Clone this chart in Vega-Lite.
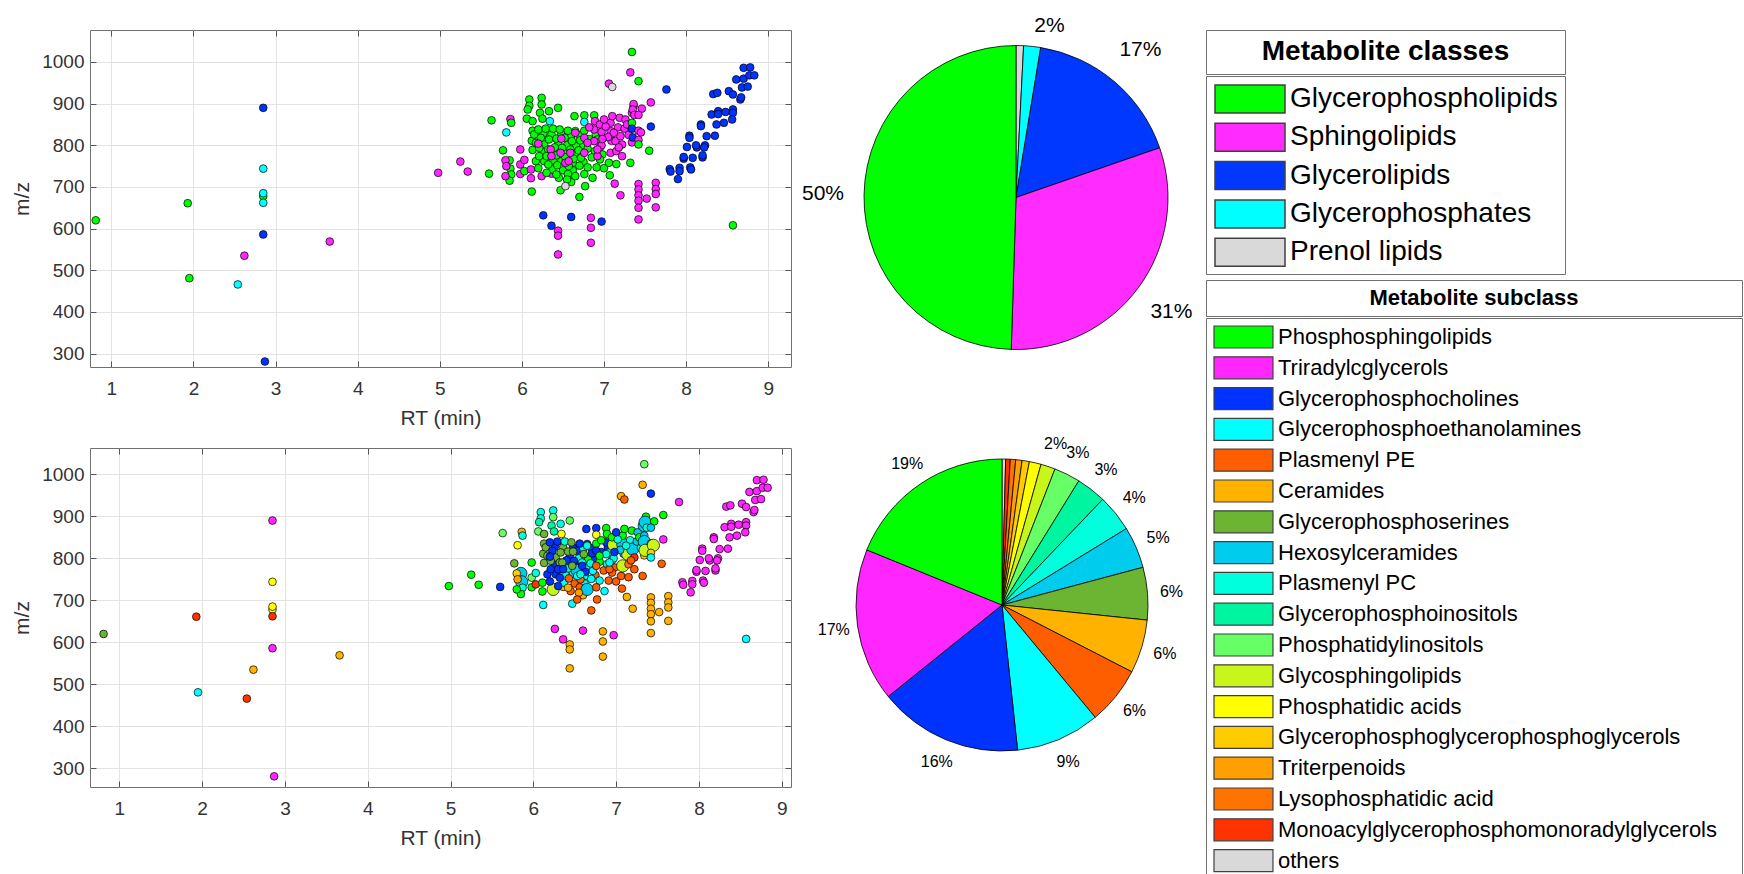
{
"$schema":"https://vega.github.io/schema/vega-lite/v6.json",
"background":"white",
"autosize":{"type":"pad"},
"padding":{"left":11,"top":15,"right":0,"bottom":0},
"config":{
 "font":"Liberation Sans",
 "view":{"stroke":"#707070","strokeWidth":1},
 "axis":{"labelFont":"Liberation Sans","titleFont":"Liberation Sans","labelFontSize":19,"titleFontSize":21,"titleFontWeight":"normal","labelColor":"#333333","titleColor":"#333333","tickColor":"#555555","tickSize":-6,"domain":false,"gridColor":"#e3e3e3"}
},
"datasets":{
 "pts":[
{"rt":0.81,"mz":620,"cls":"GP","sub":"PS"},
{"rt":1.93,"mz":661,"cls":"GP","sub":"MON"},
{"rt":1.95,"mz":481,"cls":"GP","sub":"PE"},
{"rt":2.54,"mz":466,"cls":"GPh","sub":"MON"},
{"rt":2.62,"mz":535,"cls":"SP","sub":"CER"},
{"rt":2.85,"mz":890,"cls":"GL","sub":"TAG"},
{"rt":2.85,"mz":678,"cls":"GP","sub":"PA"},
{"rt":2.85,"mz":744,"cls":"GPh","sub":"PA"},
{"rt":2.85,"mz":685,"cls":"GPh","sub":"PA"},
{"rt":2.85,"mz":662,"cls":"GPh","sub":"MON"},
{"rt":2.85,"mz":586,"cls":"GL","sub":"TAG"},
{"rt":2.87,"mz":281,"cls":"GL","sub":"TAG"},
{"rt":3.66,"mz":569,"cls":"SP","sub":"CER"},
{"rt":4.98,"mz":734,"cls":"SP","sub":"PSL"},
{"rt":5.25,"mz":761,"cls":"SP","sub":"PSL"},
{"rt":5.34,"mz":737,"cls":"SP","sub":"PSL"},
{"rt":5.6,"mz":732,"cls":"GP","sub":"PC"},
{"rt":5.63,"mz":860,"cls":"GP","sub":"PI"},
{"rt":5.86,"mz":863,"cls":"SP","sub":"CER"},
{"rt":5.87,"mz":854,"cls":"GP","sub":"PPC"},
{"rt":5.81,"mz":831,"cls":"GPh","sub":"PA"},
{"rt":5.77,"mz":788,"cls":"GP","sub":"PS"},
{"rt":5.98,"mz":790,"cls":"SP","sub":"PSL"},
{"rt":5.85,"mz":764,"cls":"GP","sub":"HEX","big":1},
{"rt":5.86,"mz":744,"cls":"GP","sub":"HEX","big":1},
{"rt":5.87,"mz":730,"cls":"GP","sub":"PPC"},
{"rt":5.85,"mz":715,"cls":"GP","sub":"PSL"},
{"rt":5.8,"mz":764,"cls":"SP","sub":"PGG"},
{"rt":5.81,"mz":750,"cls":"SP","sub":"TRI"},
{"rt":5.8,"mz":726,"cls":"SP","sub":"PSL"},
{"rt":5.98,"mz":754,"cls":"SP","sub":"PI"},
{"rt":5.98,"mz":731,"cls":"SP","sub":"PSL"},
{"rt":6.03,"mz":765,"cls":"SP","sub":"PPC"},
{"rt":6.03,"mz":738,"cls":"GP","sub":"MON"},
{"rt":6.11,"mz":742,"cls":"SP","sub":"PSL"},
{"rt":6.11,"mz":721,"cls":"SP","sub":"PSL"},
{"rt":6.24,"mz":726,"cls":"SP","sub":"GSL","big":1},
{"rt":6.36,"mz":732,"cls":"SP","sub":"CER"},
{"rt":6.12,"mz":689,"cls":"GP","sub":"PE"},
{"rt":6.09,"mz":910,"cls":"GP","sub":"PPC"},
{"rt":6.09,"mz":895,"cls":"GP","sub":"PPC"},
{"rt":6.07,"mz":886,"cls":"GP","sub":"PGI"},
{"rt":6.06,"mz":864,"cls":"GP","sub":"PI"},
{"rt":6.13,"mz":858,"cls":"GP","sub":"PS"},
{"rt":6.13,"mz":835,"cls":"GP","sub":"PS"},
{"rt":6.12,"mz":811,"cls":"GP","sub":"PS"},
{"rt":6.13,"mz":789,"cls":"GP","sub":"PS"},
{"rt":6.24,"mz":914,"cls":"GP","sub":"PPC"},
{"rt":6.24,"mz":898,"cls":"GP","sub":"PI"},
{"rt":6.22,"mz":878,"cls":"GP","sub":"PGI"},
{"rt":6.25,"mz":864,"cls":"GP","sub":"PGI"},
{"rt":6.33,"mz":882,"cls":"GP","sub":"PPC"},
{"rt":6.34,"mz":858,"cls":"GPh","sub":"PA"},
{"rt":6.44,"mz":890,"cls":"GP","sub":"PI"},
{"rt":6.64,"mz":870,"cls":"GP","sub":"PC"},
{"rt":6.76,"mz":872,"cls":"GP","sub":"PC"},
{"rt":6.76,"mz":856,"cls":"GPh","sub":"PA"},
{"rt":6.88,"mz":872,"cls":"GP","sub":"PSL"},
{"rt":6.89,"mz":858,"cls":"SP","sub":"PSL"},
{"rt":6.15,"mz":826,"cls":"GP","sub":"PS"},
{"rt":6.26,"mz":828,"cls":"GP","sub":"PC"},
{"rt":6.36,"mz":826,"cls":"GP","sub":"PS"},
{"rt":6.48,"mz":826,"cls":"GP","sub":"PC"},
{"rt":6.6,"mz":822,"cls":"GP","sub":"PPC"},
{"rt":6.7,"mz":824,"cls":"GP","sub":"PC"},
{"rt":6.17,"mz":806,"cls":"GP","sub":"PS"},
{"rt":6.27,"mz":802,"cls":"GP","sub":"PS"},
{"rt":6.44,"mz":804,"cls":"GP","sub":"PC"},
{"rt":6.55,"mz":800,"cls":"GP","sub":"PPC"},
{"rt":6.66,"mz":798,"cls":"GP","sub":"PSL"},
{"rt":6.75,"mz":800,"cls":"GP","sub":"PC"},
{"rt":6.26,"mz":784,"cls":"GP","sub":"PC"},
{"rt":6.37,"mz":784,"cls":"GP","sub":"PPC"},
{"rt":6.52,"mz":782,"cls":"GP","sub":"PC"},
{"rt":6.64,"mz":778,"cls":"GP","sub":"PE"},
{"rt":6.17,"mz":762,"cls":"GP","sub":"PC"},
{"rt":6.27,"mz":762,"cls":"GP","sub":"PC"},
{"rt":6.38,"mz":764,"cls":"GP","sub":"PPC"},
{"rt":6.48,"mz":762,"cls":"GP","sub":"PE"},
{"rt":6.62,"mz":758,"cls":"GP","sub":"PPC"},
{"rt":6.75,"mz":760,"cls":"GP","sub":"PPE"},
{"rt":6.2,"mz":745,"cls":"GP","sub":"PC"},
{"rt":6.37,"mz":742,"cls":"GP","sub":"PE"},
{"rt":6.5,"mz":740,"cls":"GP","sub":"PPE"},
{"rt":6.62,"mz":740,"cls":"GP","sub":"PE"},
{"rt":6.45,"mz":722,"cls":"GP","sub":"PPE"},
{"rt":6.6,"mz":712,"cls":"GP","sub":"CER"},
{"rt":6.95,"mz":795,"cls":"GP","sub":"PPC"},
{"rt":6.9,"mz":826,"cls":"GP","sub":"PC"},
{"rt":6.2,"mz":838,"cls":"GP","sub":"PC"},
{"rt":6.29,"mz":840,"cls":"GP","sub":"PC"},
{"rt":6.38,"mz":840,"cls":"GP","sub":"PPC"},
{"rt":6.46,"mz":838,"cls":"GP","sub":"PS"},
{"rt":6.56,"mz":835,"cls":"GP","sub":"PC"},
{"rt":6.65,"mz":834,"cls":"GP","sub":"PC"},
{"rt":6.76,"mz":835,"cls":"GP","sub":"PSL"},
{"rt":6.23,"mz":818,"cls":"GP","sub":"PC"},
{"rt":6.33,"mz":814,"cls":"GP","sub":"PS"},
{"rt":6.42,"mz":816,"cls":"GP","sub":"PS"},
{"rt":6.52,"mz":818,"cls":"GP","sub":"PC"},
{"rt":6.61,"mz":810,"cls":"GP","sub":"PS"},
{"rt":6.71,"mz":812,"cls":"GP","sub":"PC"},
{"rt":6.82,"mz":815,"cls":"GP","sub":"PC"},
{"rt":6.92,"mz":814,"cls":"GP","sub":"PPC"},
{"rt":6.21,"mz":794,"cls":"GP","sub":"PS"},
{"rt":6.32,"mz":790,"cls":"GP","sub":"PS"},
{"rt":6.4,"mz":795,"cls":"GP","sub":"PC"},
{"rt":6.49,"mz":794,"cls":"GP","sub":"PC"},
{"rt":6.59,"mz":790,"cls":"GP","sub":"PPC"},
{"rt":6.69,"mz":788,"cls":"GP","sub":"PPC"},
{"rt":6.8,"mz":792,"cls":"GP","sub":"PSL"},
{"rt":6.89,"mz":786,"cls":"GP","sub":"PPC"},
{"rt":6.98,"mz":778,"cls":"GP","sub":"PPE"},
{"rt":6.21,"mz":774,"cls":"GP","sub":"PC"},
{"rt":6.3,"mz":774,"cls":"GP","sub":"PC"},
{"rt":6.42,"mz":776,"cls":"GP","sub":"PPC"},
{"rt":6.53,"mz":771,"cls":"GP","sub":"HEX","big":1},
{"rt":6.63,"mz":768,"cls":"GP","sub":"PC"},
{"rt":6.72,"mz":770,"cls":"GP","sub":"PE"},
{"rt":6.85,"mz":771,"cls":"GP","sub":"PPE"},
{"rt":6.95,"mz":766,"cls":"GP","sub":"PPE"},
{"rt":6.32,"mz":754,"cls":"GP","sub":"PC"},
{"rt":6.43,"mz":752,"cls":"GP","sub":"PPE"},
{"rt":6.57,"mz":750,"cls":"GP","sub":"PPE"},
{"rt":6.7,"mz":751,"cls":"GP","sub":"PE"},
{"rt":6.8,"mz":747,"cls":"GP","sub":"PE"},
{"rt":6.91,"mz":747,"cls":"GP","sub":"PPE"},
{"rt":6.3,"mz":734,"cls":"GP","sub":"PC"},
{"rt":6.42,"mz":730,"cls":"GP","sub":"CER"},
{"rt":6.56,"mz":731,"cls":"GP","sub":"PPE"},
{"rt":6.65,"mz":726,"cls":"GP","sub":"HEX","big":1},
{"rt":6.76,"mz":731,"cls":"GP","sub":"PPE"},
{"rt":6.86,"mz":722,"cls":"GP","sub":"PE"},
{"rt":6.55,"mz":718,"cls":"GP","sub":"TRI"},
{"rt":6.47,"mz":692,"cls":"GP","sub":"PE"},
{"rt":6.7,"mz":676,"cls":"GP","sub":"PPE"},
{"rt":6.77,"mz":702,"cls":"GP","sub":"PPE"},
{"rt":6.53,"mz":702,"cls":"PR","sub":"PPE"},
{"rt":7.0,"mz":745,"cls":"GP","sub":"PPE"},
{"rt":7.06,"mz":758,"cls":"GP","sub":"PPE"},
{"rt":7.15,"mz":755,"cls":"GP","sub":"PPE"},
{"rt":7.07,"mz":728,"cls":"GP","sub":"PPE"},
{"rt":6.2,"mz":804,"cls":"SP","sub":"PC"},
{"rt":6.48,"mz":816,"cls":"SP","sub":"PS"},
{"rt":6.65,"mz":830,"cls":"SP","sub":"PPC"},
{"rt":6.76,"mz":818,"cls":"SP","sub":"PC"},
{"rt":6.88,"mz":838,"cls":"SP","sub":"PC"},
{"rt":6.97,"mz":832,"cls":"SP","sub":"GSL","big":1},
{"rt":7.08,"mz":834,"cls":"SP","sub":"HEX","big":1},
{"rt":7.08,"mz":854,"cls":"SP","sub":"PSL"},
{"rt":7.17,"mz":843,"cls":"SP","sub":"PPC"},
{"rt":7.19,"mz":866,"cls":"SP","sub":"PSL"},
{"rt":7.1,"mz":870,"cls":"SP","sub":"PSL"},
{"rt":7.26,"mz":862,"cls":"SP","sub":"HEX"},
{"rt":7.34,"mz":878,"cls":"SP","sub":"HEX","big":1},
{"rt":7.36,"mz":894,"cls":"SP","sub":"PSL"},
{"rt":6.88,"mz":810,"cls":"SP","sub":"PPC"},
{"rt":6.8,"mz":806,"cls":"SP","sub":"PSL"},
{"rt":6.76,"mz":782,"cls":"SP","sub":"PPE"},
{"rt":6.59,"mz":782,"cls":"SP","sub":"PC"},
{"rt":6.47,"mz":782,"cls":"SP","sub":"PS"},
{"rt":6.35,"mz":790,"cls":"SP","sub":"PS"},
{"rt":6.36,"mz":774,"cls":"SP","sub":"PC"},
{"rt":6.53,"mz":758,"cls":"SP","sub":"PE"},
{"rt":6.57,"mz":762,"cls":"SP","sub":"PPC"},
{"rt":6.92,"mz":774,"cls":"SP","sub":"PPE"},
{"rt":6.97,"mz":800,"cls":"SP","sub":"PPC"},
{"rt":7.09,"mz":811,"cls":"SP","sub":"HEX"},
{"rt":7.14,"mz":810,"cls":"SP","sub":"GSL","big":1},
{"rt":7.2,"mz":822,"cls":"SP","sub":"HEX","big":1},
{"rt":7.22,"mz":802,"cls":"SP","sub":"MON"},
{"rt":7.08,"mz":782,"cls":"SP","sub":"GSL","big":1},
{"rt":7.15,"mz":786,"cls":"SP","sub":"LPA"},
{"rt":7.34,"mz":807,"cls":"SP","sub":"PGG"},
{"rt":7.22,"mz":774,"cls":"SP","sub":"PPE"},
{"rt":7.13,"mz":708,"cls":"SP","sub":"CER"},
{"rt":7.2,"mz":680,"cls":"SP","sub":"CER"},
{"rt":6.95,"mz":850,"cls":"SP","sub":"PSL"},
{"rt":7.02,"mz":845,"cls":"SP","sub":"PPC"},
{"rt":7.05,"mz":820,"cls":"SP","sub":"HEX"},
{"rt":7.12,"mz":830,"cls":"SP","sub":"PPC"},
{"rt":7.25,"mz":840,"cls":"SP","sub":"HEX"},
{"rt":7.3,"mz":825,"cls":"SP","sub":"PPC"},
{"rt":6.98,"mz":815,"cls":"SP","sub":"PC"},
{"rt":7.18,"mz":795,"cls":"SP","sub":"PPE"},
{"rt":7.28,"mz":850,"cls":"SP","sub":"PSL"},
{"rt":7.0,"mz":862,"cls":"SP","sub":"PC"},
{"rt":6.82,"mz":843,"cls":"SP","sub":"PSL"},
{"rt":6.92,"mz":790,"cls":"SP","sub":"PE"},
{"rt":7.34,"mz":1024,"cls":"GP","sub":"PI"},
{"rt":7.32,"mz":975,"cls":"SP","sub":"CER"},
{"rt":7.06,"mz":948,"cls":"SP","sub":"CER"},
{"rt":7.1,"mz":940,"cls":"PR","sub":"PPE"},
{"rt":7.42,"mz":954,"cls":"GP","sub":"PC"},
{"rt":7.76,"mz":934,"cls":"GL","sub":"TAG"},
{"rt":7.57,"mz":903,"cls":"SP","sub":"PSL"},
{"rt":7.36,"mz":899,"cls":"SP","sub":"PSL"},
{"rt":7.35,"mz":886,"cls":"SP","sub":"HEX","big":1},
{"rt":7.46,"mz":888,"cls":"SP","sub":"PSL"},
{"rt":7.37,"mz":873,"cls":"SP","sub":"PPC"},
{"rt":7.42,"mz":873,"cls":"SP","sub":"HEX"},
{"rt":7.34,"mz":854,"cls":"GP","sub":"HEX"},
{"rt":7.34,"mz":840,"cls":"GL","sub":"HEX","big":1},
{"rt":7.35,"mz":819,"cls":"GL","sub":"GSL","big":1},
{"rt":7.42,"mz":835,"cls":"SP","sub":"HEX"},
{"rt":7.45,"mz":831,"cls":"SP","sub":"GSL","big":1},
{"rt":7.42,"mz":813,"cls":"SP","sub":"PGG"},
{"rt":7.42,"mz":802,"cls":"GP","sub":"PE"},
{"rt":7.57,"mz":845,"cls":"GL","sub":"TAG"},
{"rt":7.55,"mz":787,"cls":"GP","sub":"PPE"},
{"rt":7.32,"mz":758,"cls":"GP","sub":"PPE"},
{"rt":7.42,"mz":707,"cls":"SP","sub":"CER"},
{"rt":7.42,"mz":694,"cls":"SP","sub":"CER"},
{"rt":7.42,"mz":680,"cls":"SP","sub":"CER"},
{"rt":7.42,"mz":667,"cls":"SP","sub":"CER"},
{"rt":7.42,"mz":650,"cls":"SP","sub":"CER"},
{"rt":7.42,"mz":622,"cls":"SP","sub":"CER"},
{"rt":7.52,"mz":672,"cls":"SP","sub":"CER"},
{"rt":7.63,"mz":710,"cls":"SP","sub":"CER"},
{"rt":7.63,"mz":695,"cls":"SP","sub":"CER"},
{"rt":7.63,"mz":683,"cls":"SP","sub":"CER"},
{"rt":7.63,"mz":651,"cls":"SP","sub":"CER"},
{"rt":6.26,"mz":632,"cls":"GL","sub":"TAG"},
{"rt":6.36,"mz":607,"cls":"GL","sub":"TAG"},
{"rt":6.6,"mz":628,"cls":"GL","sub":"TAG"},
{"rt":6.97,"mz":617,"cls":"GL","sub":"TAG"},
{"rt":6.44,"mz":595,"cls":"SP","sub":"CER"},
{"rt":6.44,"mz":583,"cls":"SP","sub":"CER"},
{"rt":6.44,"mz":538,"cls":"SP","sub":"CER"},
{"rt":6.84,"mz":626,"cls":"SP","sub":"CER"},
{"rt":6.84,"mz":602,"cls":"SP","sub":"CER"},
{"rt":6.84,"mz":566,"cls":"SP","sub":"CER"},
{"rt":8.57,"mz":608,"cls":"GP","sub":"PE"},
{"rt":7.8,"mz":743,"cls":"GL","sub":"TAG"},
{"rt":7.81,"mz":737,"cls":"GL","sub":"TAG"},
{"rt":7.92,"mz":746,"cls":"GL","sub":"TAG"},
{"rt":7.92,"mz":738,"cls":"GL","sub":"TAG"},
{"rt":7.9,"mz":719,"cls":"GL","sub":"TAG"},
{"rt":8.05,"mz":747,"cls":"GL","sub":"TAG"},
{"rt":8.06,"mz":742,"cls":"GL","sub":"TAG"},
{"rt":7.97,"mz":768,"cls":"GL","sub":"TAG"},
{"rt":7.97,"mz":772,"cls":"GL","sub":"TAG"},
{"rt":8.08,"mz":770,"cls":"GL","sub":"TAG"},
{"rt":8.2,"mz":771,"cls":"GL","sub":"TAG"},
{"rt":8.2,"mz":776,"cls":"GL","sub":"TAG"},
{"rt":8.01,"mz":796,"cls":"GL","sub":"TAG"},
{"rt":8.13,"mz":795,"cls":"GL","sub":"TAG"},
{"rt":8.12,"mz":800,"cls":"GL","sub":"TAG"},
{"rt":8.23,"mz":800,"cls":"GL","sub":"TAG"},
{"rt":8.22,"mz":795,"cls":"GL","sub":"TAG"},
{"rt":8.04,"mz":823,"cls":"GL","sub":"TAG"},
{"rt":8.04,"mz":818,"cls":"GL","sub":"TAG"},
{"rt":8.25,"mz":822,"cls":"GL","sub":"TAG"},
{"rt":8.35,"mz":823,"cls":"GL","sub":"TAG"},
{"rt":8.18,"mz":850,"cls":"GL","sub":"TAG"},
{"rt":8.18,"mz":846,"cls":"GL","sub":"TAG"},
{"rt":8.37,"mz":850,"cls":"GL","sub":"TAG"},
{"rt":8.46,"mz":854,"cls":"GL","sub":"TAG"},
{"rt":8.31,"mz":874,"cls":"GL","sub":"TAG"},
{"rt":8.39,"mz":882,"cls":"GL","sub":"TAG"},
{"rt":8.39,"mz":875,"cls":"GL","sub":"TAG"},
{"rt":8.48,"mz":880,"cls":"GL","sub":"TAG"},
{"rt":8.57,"mz":886,"cls":"GL","sub":"TAG"},
{"rt":8.57,"mz":878,"cls":"GL","sub":"TAG"},
{"rt":8.56,"mz":862,"cls":"GL","sub":"TAG"},
{"rt":8.33,"mz":923,"cls":"GL","sub":"TAG"},
{"rt":8.38,"mz":926,"cls":"GL","sub":"TAG"},
{"rt":8.52,"mz":930,"cls":"GL","sub":"TAG"},
{"rt":8.57,"mz":922,"cls":"GL","sub":"TAG"},
{"rt":8.66,"mz":910,"cls":"GL","sub":"TAG"},
{"rt":8.67,"mz":915,"cls":"GL","sub":"TAG"},
{"rt":8.68,"mz":939,"cls":"GL","sub":"TAG"},
{"rt":8.75,"mz":941,"cls":"GL","sub":"TAG"},
{"rt":8.61,"mz":958,"cls":"GL","sub":"TAG"},
{"rt":8.7,"mz":960,"cls":"GL","sub":"TAG"},
{"rt":8.7,"mz":986,"cls":"GL","sub":"TAG"},
{"rt":8.78,"mz":987,"cls":"GL","sub":"TAG"},
{"rt":8.77,"mz":968,"cls":"GL","sub":"TAG"},
{"rt":8.83,"mz":968,"cls":"GL","sub":"TAG"}
 ],
 "clsPie":[
  {"cls":"Prenol lipids","pct":0.8,"lab":"","ord":0},
  {"cls":"Glycerophosphates","pct":1.8,"lab":"2%","ord":1},
  {"cls":"Glycerolipids","pct":17.1,"lab":"17%","ord":2},
  {"cls":"Sphingolipids","pct":30.8,"lab":"31%","ord":3},
  {"cls":"Glycerophospholipids","pct":49.5,"lab":"50%","ord":4}
 ],
 "subPie":[
  {"sub":"others","pct":0.4,"lab":"","ord":0},
  {"sub":"Monoacylglycerophosphomonoradylglycerols","pct":0.5,"lab":"","ord":1},
  {"sub":"Lysophosphatidic acid","pct":0.6,"lab":"","ord":2},
  {"sub":"Triterpenoids","pct":0.7,"lab":"","ord":3},
  {"sub":"Glycerophosphoglycerophosphoglycerols","pct":0.8,"lab":"","ord":4},
  {"sub":"Phosphatidic acids","pct":1.3,"lab":"","ord":5},
  {"sub":"Glycosphingolipids","pct":1.6,"lab":"2%","ord":6},
  {"sub":"Phosphatidylinositols","pct":2.9,"lab":"3%","ord":7},
  {"sub":"Glycerophosphoinositols","pct":3.3,"lab":"3%","ord":8},
  {"sub":"Plasmenyl PC","pct":4.1,"lab":"4%","ord":9},
  {"sub":"Hexosylceramides","pct":4.6,"lab":"5%","ord":10},
  {"sub":"Glycerophosphoserines","pct":5.8,"lab":"6%","ord":11},
  {"sub":"Ceramides","pct":5.9,"lab":"6%","ord":12},
  {"sub":"Plasmenyl PE","pct":6.4,"lab":"6%","ord":13},
  {"sub":"Glycerophosphoethanolamines","pct":9.3,"lab":"9%","ord":14},
  {"sub":"Glycerophosphocholines","pct":15.9,"lab":"16%","ord":15},
  {"sub":"Triradylcglycerols","pct":16.9,"lab":"17%","ord":16},
  {"sub":"Phosphosphingolipids","pct":18.8,"lab":"19%","ord":17}
 ]
},
"resolve":{"scale":{"color":"independent"},"legend":{"color":"independent"}},
"spacing":10,
"hconcat":[
 {"spacing":18,"resolve":{"scale":{"color":"independent"},"legend":{"color":"independent"}},"vconcat":[
  {"width":701,"height":337,"data":{"name":"pts"},
   "layer":[
    {"mark":{"type":"point","filled":true,"opacity":1,"size":60,"stroke":"#000000","strokeWidth":0.7},
     "encoding":{
      "x":{"field":"rt","type":"quantitative","scale":{"domain":[0.74,9.277],"nice":false,"zero":false},"axis":{"title":"RT (min)","values":[1,2,3,4,5,6,7,8,9],"format":"d","labelPadding":18,"titlePadding":9,"grid":true}},
      "y":{"field":"mz","type":"quantitative","scale":{"domain":[267.8,1076.8],"nice":false,"zero":false},"axis":{"title":"m/z","values":[300,400,500,600,700,800,900,1000],"format":"d","labelPadding":12,"titlePadding":9,"grid":true}},
      "color":{"field":"cls","type":"nominal","scale":{"domain":["GP","SP","GL","GPh","PR"],"range":["#00ff00","#ff26ff","#0033ff","#00ffff","#d9d9d9"]},"legend":null}
     }},
    {"mark":{"type":"point","opacity":0},
     "encoding":{
      "x":{"field":"rt","type":"quantitative","scale":{"domain":[0.74,9.277],"nice":false,"zero":false},"axis":{"orient":"top","labels":false,"title":null,"grid":false,"values":[1,2,3,4,5,6,7,8,9]}},
      "y":{"field":"mz","type":"quantitative","scale":{"domain":[267.8,1076.8],"nice":false,"zero":false},"axis":{"orient":"right","labels":false,"title":null,"grid":false,"values":[300,400,500,600,700,800,900,1000]}}
     }}
   ],
   "resolve":{"axis":{"x":"independent","y":"independent"}}
  },
  {"width":701,"height":339,"data":{"name":"pts"},
   "layer":[
    {"mark":{"type":"point","filled":true,"opacity":1,"stroke":"#000000","strokeWidth":0.7},
     "encoding":{
      "x":{"field":"rt","type":"quantitative","scale":{"domain":[0.646,9.112],"nice":false,"zero":false},"axis":{"title":"RT (min)","values":[1,2,3,4,5,6,7,8,9],"format":"d","labelPadding":18,"titlePadding":9,"grid":true}},
      "y":{"field":"mz","type":"quantitative","scale":{"domain":[255.6,1062.6],"nice":false,"zero":false},"axis":{"title":"m/z","values":[300,400,500,600,700,800,900,1000],"format":"d","labelPadding":12,"titlePadding":9,"grid":true}},
      "size":{"condition":{"test":"datum.big == 1","value":150},"value":60},
      "color":{"field":"sub","type":"nominal","scale":{"domain":["PSL","TAG","PC","PE","PPE","CER","PS","HEX","PPC","PGI","PI","GSL","PA","PGG","TRI","LPA","MON","OTH"],"range":["#00ff00","#ff26ff","#0033ff","#00ffff","#ff5e00","#ffb300","#6bb533","#00ccee","#00ffdd","#00f5a0","#66ff66","#c8f51a","#ffff00","#ffcc00","#ffa000","#ff7300","#ff3300","#d9d9d9"]},"legend":null}
     }},
    {"mark":{"type":"point","opacity":0},
     "encoding":{
      "x":{"field":"rt","type":"quantitative","scale":{"domain":[0.646,9.112],"nice":false,"zero":false},"axis":{"orient":"top","labels":false,"title":null,"grid":false,"values":[1,2,3,4,5,6,7,8,9]}},
      "y":{"field":"mz","type":"quantitative","scale":{"domain":[255.6,1062.6],"nice":false,"zero":false},"axis":{"orient":"right","labels":false,"title":null,"grid":false,"values":[300,400,500,600,700,800,900,1000]}}
     }}
   ],
   "resolve":{"axis":{"x":"independent","y":"independent"}}
  }
 ]},
 {"spacing":70,"resolve":{"scale":{"color":"independent"},"legend":{"color":"independent"}},"vconcat":[
  {"width":358,"height":335,"view":{"stroke":null},"data":{"name":"clsPie"},
   "encoding":{"theta":{"field":"pct","type":"quantitative","stack":true},"order":{"field":"ord","type":"quantitative"},"detail":{"field":"cls","type":"nominal"}},
   "layer":[
    {"mark":{"type":"arc","outerRadius":152,"stroke":"#000000","strokeWidth":0.8},
     "encoding":{"color":{"field":"cls","type":"nominal","scale":{"domain":["Glycerophospholipids","Sphingolipids","Glycerolipids","Glycerophosphates","Prenol lipids"],"range":["#00ff00","#ff2bff","#0038ff","#00ffff","#d9d9d9"]},"legend":null}}},
    {"mark":{"type":"text","fontSize":21,"color":"#000000","radius":{"expr":"datum.pct >= 5 ? 193 : (datum.pct >= 1 ? 172 : 0)"},"align":{"expr":"datum.pct >= 5 ? 'center' : 'left'"}},
     "encoding":{"text":{"field":"lab","type":"nominal"}}}
   ]
  },
  {"width":330,"height":290,"view":{"stroke":null},"data":{"name":"subPie"},
   "encoding":{"theta":{"field":"pct","type":"quantitative","stack":true},"order":{"field":"ord","type":"quantitative"},"detail":{"field":"sub","type":"nominal"}},
   "layer":[
    {"mark":{"type":"arc","outerRadius":146,"stroke":"#000000","strokeWidth":0.8},
     "encoding":{"color":{"field":"sub","type":"nominal","scale":{"domain":["Phosphosphingolipids","Triradylcglycerols","Glycerophosphocholines","Glycerophosphoethanolamines","Plasmenyl PE","Ceramides","Glycerophosphoserines","Hexosylceramides","Plasmenyl PC","Glycerophosphoinositols","Phosphatidylinositols","Glycosphingolipids","Phosphatidic acids","Glycerophosphoglycerophosphoglycerols","Triterpenoids","Lysophosphatidic acid","Monoacylglycerophosphomonoradylglycerols","others"],"range":["#00ff00","#ff26ff","#0033ff","#00ffff","#ff5e00","#ffb300","#6bb533","#00ccee","#00ffdd","#00f5a0","#66ff66","#c8f51a","#ffff00","#ffcc00","#ffa000","#ff7300","#ff3300","#d9d9d9"]},"legend":null}}},
    {"mark":{"type":"text","fontSize":16,"color":"#000000","radius":{"expr":"datum.lab == '' ? 0 : 170"}},
     "encoding":{"text":{"field":"lab","type":"nominal"}}}
   ]
  }
 ]},
 {"spacing":4,"resolve":{"scale":{"color":"independent"},"legend":{"color":"independent"}},"vconcat":[
  {"spacing":0,"resolve":{"scale":{"color":"independent"},"legend":{"color":"independent"}},"vconcat":[
   {"width":359,"height":44,"view":{"stroke":"#707070","strokeWidth":1},"data":{"values":[{"t":"Metabolite classes"}]},
    "mark":{"type":"text","fontSize":28,"fontWeight":"bold","color":"#000000"},
    "encoding":{"text":{"field":"t","type":"nominal"}}},
   {"width":359,"height":198,"view":{"stroke":"#707070","strokeWidth":1},"data":{"name":"clsPie"},
    "mark":{"type":"text","text":""},
    "encoding":{"color":{"field":"cls","type":"nominal","scale":{"domain":["Glycerophospholipids","Sphingolipids","Glycerolipids","Glycerophosphates","Prenol lipids"],"range":["#00ff00","#ff2bff","#0038ff","#00ffff","#d9d9d9"]},
     "legend":{"orient":"top-left","offset":8,"title":null,"padding":0,"symbolType":"M-1,-1H4V1H-1Z","symbolSize":784,"symbolStrokeColor":"#404040","symbolStrokeWidth":1.5,"symbolOpacity":1,"labelFontSize":28,"labelFont":"Liberation Sans","labelColor":"#000000","labelOffset":46,"labelLimit":1000,"rowPadding":4.3}}}}
  ]},
  {"spacing":0,"resolve":{"scale":{"color":"independent"},"legend":{"color":"independent"}},"vconcat":[
   {"width":536,"height":36,"view":{"stroke":"#707070","strokeWidth":1},"data":{"values":[{"t":"Metabolite subclass"}]},
    "mark":{"type":"text","fontSize":22,"fontWeight":"bold","color":"#000000"},
    "encoding":{"text":{"field":"t","type":"nominal"}}},
   {"width":536,"height":558,"view":{"stroke":"#707070","strokeWidth":1},"data":{"name":"subPie"},
    "mark":{"type":"text","text":""},
    "encoding":{"color":{"field":"sub","type":"nominal","scale":{"domain":["Phosphosphingolipids","Triradylcglycerols","Glycerophosphocholines","Glycerophosphoethanolamines","Plasmenyl PE","Ceramides","Glycerophosphoserines","Hexosylceramides","Plasmenyl PC","Glycerophosphoinositols","Phosphatidylinositols","Glycosphingolipids","Phosphatidic acids","Glycerophosphoglycerophosphoglycerols","Triterpenoids","Lysophosphatidic acid","Monoacylglycerophosphomonoradylglycerols","others"],"range":["#00ff00","#ff26ff","#0033ff","#00ffff","#ff5e00","#ffb300","#6bb533","#00ccee","#00ffdd","#00f5a0","#66ff66","#c8f51a","#ffff00","#ffcc00","#ffa000","#ff7300","#ff3300","#d9d9d9"]},
     "legend":{"orient":"top-left","offset":7,"title":null,"padding":0,"symbolType":"M-1,-1H4.36V1H-1Z","symbolSize":484,"symbolStrokeColor":"#404040","symbolStrokeWidth":1.2,"symbolOpacity":1,"labelFontSize":22,"labelFont":"Liberation Sans","labelColor":"#000000","labelOffset":41,"labelLimit":1000,"rowPadding":2.8}}}}
  ]}
 ]}
]
}
